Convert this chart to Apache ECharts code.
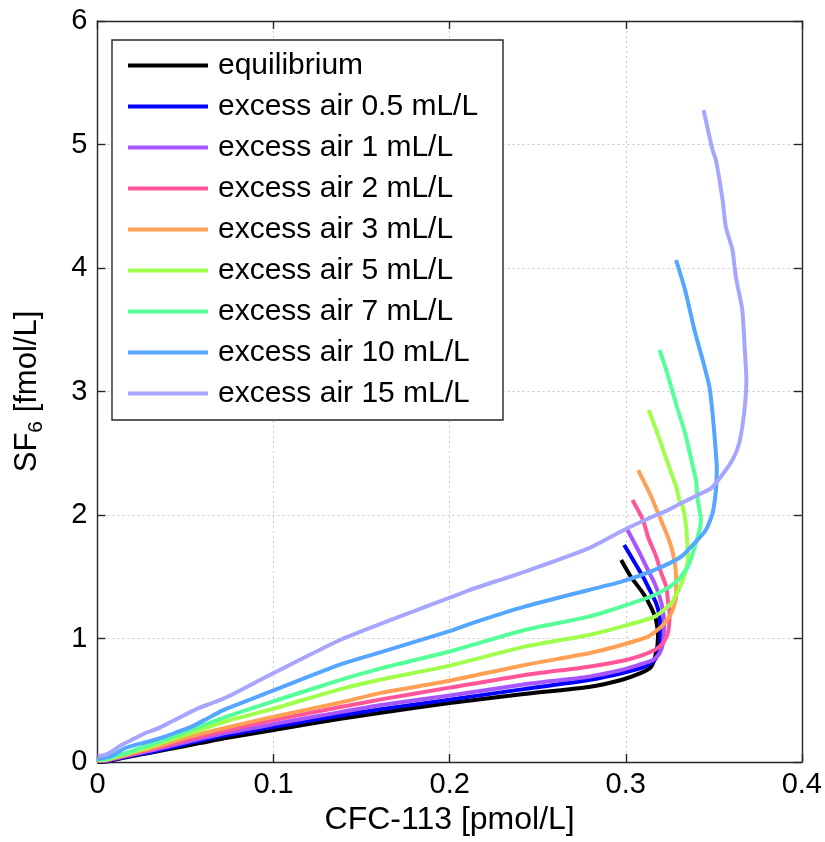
<!DOCTYPE html>
<html>
<head>
<meta charset="utf-8">
<script src="https://cdn.jsdelivr.net/npm/echarts@6/dist/echarts.min.js"></script>
<style>html,body{margin:0;padding:0;background:#fff}#c{width:825px;height:842px}</style>
</head>
<body>
<div id="c"></div>
<script>
var seriesNames = ['equilibrium','excess air 0.5 mL/L','excess air 1 mL/L','excess air 2 mL/L','excess air 3 mL/L','excess air 5 mL/L','excess air 7 mL/L','excess air 10 mL/L','excess air 15 mL/L'];
var seriesColors = ['#000000','#0000ff','#a655ff','#ff5599','#ffa055','#a0ff4d','#55ff99','#55a6ff','#a6a6ff'];
var xTickLabels = ['0','0.1','0.2','0.3','0.4'];
var yTickLabels = ['0','1','2','3','4','5','6'];

var eq = [[0,0],[0.005,0.004],[0.01,0.02],[0.02,0.048],[0.03,0.075],[0.05,0.13],[0.073,0.195],[0.1,0.259],[0.138,0.35],[0.161,0.398],[0.2,0.478],[0.242,0.55],[0.279,0.608],[0.2974,0.664],[0.3087,0.721],[0.3143,0.769],[0.3172,0.883],[0.3183,1.012],[0.3172,1.150],[0.3143,1.255],[0.3098,1.368],[0.3030,1.498],[0.2974,1.636]];
var ea05 = [[0,0.005],[0.005,0.008],[0.01,0.024],[0.02,0.055],[0.03,0.08],[0.05,0.145],[0.073,0.218],[0.1,0.285],[0.138,0.377],[0.161,0.428],[0.2,0.505],[0.242,0.59],[0.279,0.664],[0.2976,0.718],[0.3108,0.772],[0.3164,0.826],[0.3192,0.907],[0.3198,1.015],[0.3192,1.177],[0.3173,1.285],[0.3136,1.393],[0.3098,1.500],[0.3042,1.636],[0.2991,1.757]];
var ea1 = [[0,0.008],[0.005,0.011],[0.01,0.028],[0.02,0.06],[0.03,0.09],[0.05,0.16],[0.073,0.235],[0.1,0.307],[0.138,0.404],[0.161,0.462],[0.2,0.538],[0.242,0.628],[0.279,0.691],[0.2976,0.745],[0.3070,0.785],[0.3155,0.826],[0.3192,0.880],[0.3211,0.961],[0.3217,1.123],[0.3211,1.231],[0.3192,1.338],[0.3164,1.447],[0.3117,1.581],[0.3070,1.717],[0.3010,1.879]];
var ea2 = [[0,0.01],[0.005,0.014],[0.01,0.032],[0.02,0.066],[0.03,0.1],[0.05,0.175],[0.073,0.255],[0.1,0.34],[0.138,0.445],[0.161,0.507],[0.2,0.602],[0.242,0.703],[0.279,0.772],[0.2976,0.818],[0.3070,0.853],[0.3164,0.907],[0.3211,0.961],[0.3239,1.042],[0.3249,1.204],[0.3239,1.312],[0.3230,1.419],[0.3202,1.528],[0.3173,1.662],[0.3126,1.824],[0.3098,1.960],[0.3038,2.121]];
var ea3 = [[0,0.012],[0.005,0.017],[0.01,0.036],[0.02,0.074],[0.03,0.11],[0.05,0.195],[0.073,0.278],[0.1,0.366],[0.138,0.482],[0.161,0.56],[0.2,0.658],[0.242,0.784],[0.279,0.880],[0.2976,0.947],[0.3126,1.015],[0.3202,1.096],[0.3258,1.204],[0.3286,1.338],[0.3286,1.500],[0.3268,1.690],[0.3239,1.824],[0.3192,1.986],[0.3136,2.176],[0.3070,2.364]];
var ea5 = [[0,0.015],[0.005,0.02],[0.01,0.04],[0.02,0.082],[0.03,0.125],[0.05,0.22],[0.073,0.33],[0.1,0.432],[0.138,0.59],[0.161,0.668],[0.2,0.78],[0.242,0.932],[0.279,1.028],[0.2976,1.096],[0.3164,1.177],[0.3258,1.285],[0.3324,1.474],[0.3352,1.636],[0.3343,1.905],[0.3324,2.067],[0.3305,2.121],[0.3286,2.229],[0.3239,2.419],[0.3173,2.688],[0.3130,2.850]];
var ea7 = [[0,0.018],[0.005,0.024],[0.01,0.045],[0.02,0.092],[0.03,0.14],[0.05,0.245],[0.073,0.366],[0.1,0.492],[0.138,0.665],[0.161,0.758],[0.2,0.895],[0.242,1.067],[0.279,1.177],[0.2976,1.258],[0.3164,1.352],[0.3277,1.447],[0.3352,1.581],[0.3409,1.824],[0.3427,1.960],[0.3409,2.121],[0.3399,2.283],[0.3390,2.338],[0.3337,2.661],[0.3296,2.850],[0.3230,3.174],[0.3192,3.336]];
var ea10 = [[0,0.022],[0.008,0.049],[0.0155,0.111],[0.0211,0.137],[0.0287,0.164],[0.0381,0.205],[0.0457,0.245],[0.0532,0.285],[0.0608,0.340],[0.0702,0.412],[0.076,0.447],[0.1,0.58],[0.138,0.79],[0.161,0.89],[0.2,1.06],[0.212,1.121],[0.242,1.256],[0.279,1.393],[0.2976,1.460],[0.3164,1.555],[0.3314,1.662],[0.3390,1.771],[0.3455,1.879],[0.3493,2.014],[0.3512,2.202],[0.3517,2.391],[0.3512,2.500],[0.3503,2.661],[0.3493,2.823],[0.3475,3.039],[0.3442,3.228],[0.3390,3.498],[0.3337,3.822],[0.3286,4.065]];
var ea15 = [[0,0.049],[0.0041,0.057],[0.0079,0.083],[0.0136,0.137],[0.0193,0.178],[0.0268,0.232],[0.0344,0.272],[0.0419,0.326],[0.0494,0.380],[0.0570,0.434],[0.0646,0.475],[0.0702,0.505],[0.076,0.542],[0.1,0.72],[0.138,0.99],[0.161,1.12],[0.2,1.33],[0.212,1.396],[0.242,1.538],[0.2788,1.73],[0.2989,1.879],[0.3173,2.000],[0.3221,2.027],[0.3314,2.095],[0.3409,2.162],[0.3484,2.216],[0.3540,2.310],[0.3606,2.445],[0.3644,2.581],[0.3672,2.823],[0.3685,3.093],[0.3675,3.363],[0.3662,3.660],[0.3625,3.929],[0.3606,4.146],[0.3568,4.334],[0.3550,4.551],[0.3512,4.874],[0.3493,4.955],[0.3442,5.279]];

var allData = [eq, ea05, ea1, ea2, ea3, ea5, ea7, ea10, ea15];
var FONT = "'Liberation Sans', Arial, Helvetica, sans-serif";
var chart = echarts.init(document.getElementById('c'), null, {renderer:'canvas'});

var gridLine = {show:true, lineStyle:{color:'#c8c8c8', type:[2,3], width:1}};
var axLine = {show:true, onZero:false, lineStyle:{color:'#262626', width:1.4}};
var tick = {show:true, inside:true, length:8, lineStyle:{color:'#262626', width:1.4}};

var option = {
  animation:false,
  backgroundColor:'#fff',
  grid:{left:96, top:21, right:19, bottom:80, containLabel:false},
  xAxis:[{
    type:'value', min:0, max:0.4, interval:0.1, position:'bottom',
    axisLine:axLine, axisTick:tick, splitLine:gridLine,
    axisLabel:{color:'#000', fontSize:29, fontFamily:FONT, margin:8,
      formatter:function(v){ return xTickLabels[Math.round(v*10)]; }},
    name:'CFC-113 [pmol/L]', nameLocation:'middle', nameGap:30,
    nameTextStyle:{color:'#000', fontSize:32, fontFamily:FONT, verticalAlign:'top'}
  },{
    type:'value', min:0, max:0.4, interval:0.1, position:'top',
    axisLine:axLine, axisTick:tick, splitLine:{show:false}, axisLabel:{show:false}
  }],
  yAxis:[{
    type:'value', min:0, max:6, interval:1, position:'left',
    axisLine:axLine, axisTick:tick, splitLine:gridLine,
    axisLabel:{color:'#000', fontSize:29, fontFamily:FONT, margin:10,
      formatter:function(v){ return yTickLabels[Math.round(v)]; }},
    name:'{a|SF}{s|6}{a| [fmol/L]}', nameLocation:'middle', nameGap:50, nameRotate:90,
    nameTextStyle:{color:'#000', fontFamily:FONT,
      rich:{a:{fontSize:31, fontFamily:FONT, color:'#000', lineHeight:40, verticalAlign:'middle'},
            s:{fontSize:21, fontFamily:FONT, color:'#000', lineHeight:40, verticalAlign:'middle', padding:[18,0,0,0]}}}
  },{
    type:'value', min:0, max:6, interval:1, position:'right',
    axisLine:axLine, axisTick:tick, splitLine:{show:false}, axisLabel:{show:false}
  }],
  legend:{
    orient:'vertical', left:112, top:40,
    backgroundColor:'#fff', borderColor:'#262626', borderWidth:1.4,
    padding:[9,8,10,16],
    icon:'rect', itemWidth:80, itemHeight:4, itemGap:8,
    textStyle:{color:'#000', fontSize:30, fontFamily:FONT, lineHeight:33, width:277, padding:[0,0,0,5]},
    data:seriesNames
  },
  series: seriesNames.map(function(n,i){
    return {name:n, type:'line', xAxisIndex:0, yAxisIndex:0, data:allData[i],
      showSymbol:false, symbol:'none', smooth:0.2, z:2+i,
      lineStyle:{color:seriesColors[i], width:4}, itemStyle:{color:seriesColors[i]}};
  })
};
chart.setOption(option);
</script>
</body>
</html>
